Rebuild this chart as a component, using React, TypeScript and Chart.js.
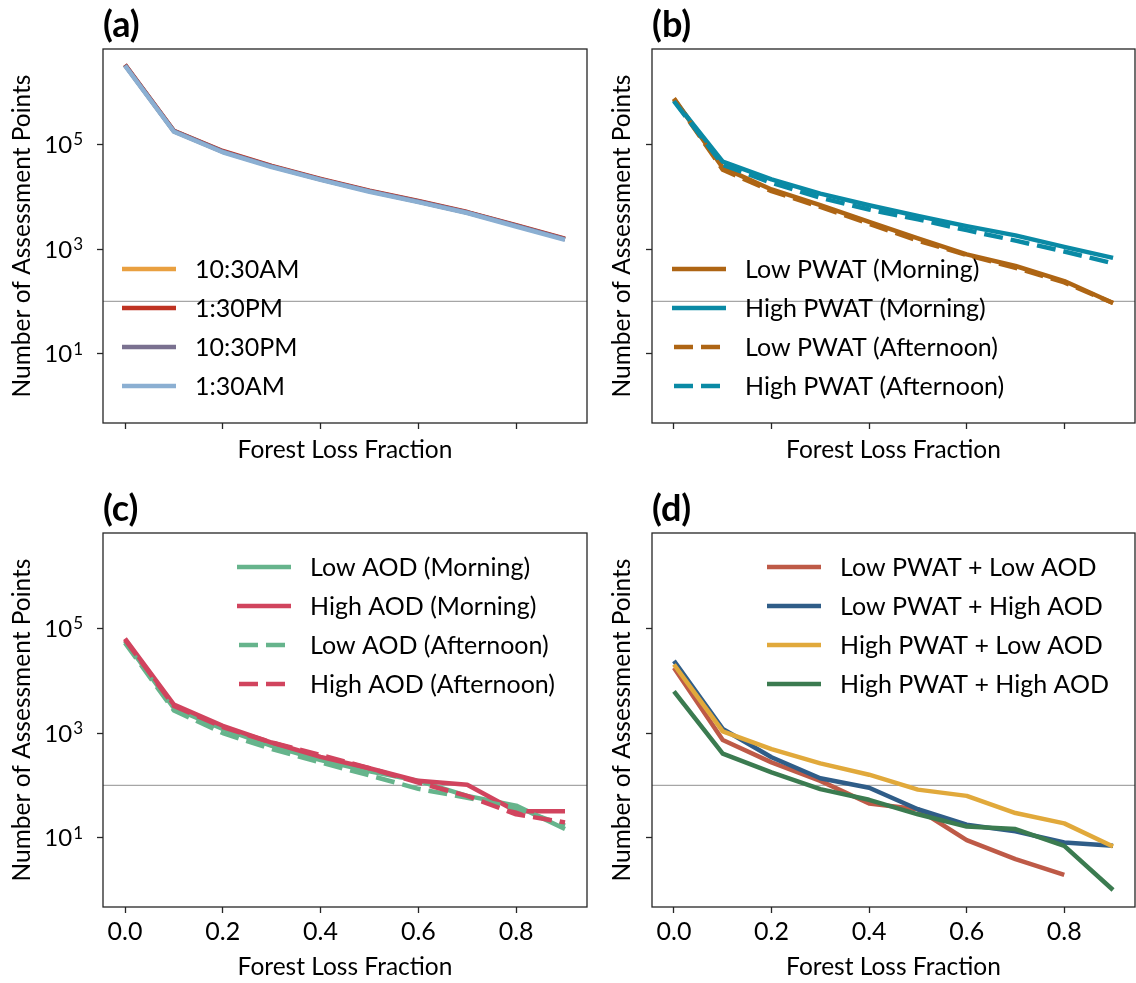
import React, { useEffect, useRef } from "react";
import { Chart, registerables } from "chart.js";

Chart.register(...registerables);

// ---------- data ----------
const FLF = [0, 0.1, 0.2, 0.3, 0.4, 0.5, 0.6, 0.7, 0.8, 0.9];
const X_TICKS = [0, 0.2, 0.4, 0.6, 0.8];
const Y_TICKS = [10, 1000, 100000];
const Y_TICK_EXP = ["1", "3", "5"];
const THRESHOLD = 100;

// (a) overpass times
const A_LABELS = ["10:30AM", "1:30PM", "10:30PM", "1:30AM"];
const A_1030AM = [3.3e6, 1.8e5, 7.3e4, 3.8e4, 2.15e4, 1.28e4, 8.1e3, 5.0e3, 2.8e3, 1.55e3];
const A_130PM = [3.35e6, 1.83e5, 7.5e4, 3.9e4, 2.2e4, 1.3e4, 8.3e3, 5.1e3, 2.85e3, 1.58e3];
const A_1030PM = [3.3e6, 1.8e5, 7.3e4, 3.8e4, 2.15e4, 1.28e4, 8.1e3, 5.0e3, 2.8e3, 1.55e3];
const A_130AM = [3.2e6, 1.75e5, 7.1e4, 3.7e4, 2.1e4, 1.25e4, 7.9e3, 4.9e3, 2.7e3, 1.5e3];

// (b) PWAT
const B_LABELS = ["Low PWAT (Morning)", "High PWAT (Morning)", "Low PWAT (Afternoon)", "High PWAT (Afternoon)"];
const B_LOW_AM = [7.6e5, 3.6e4, 1.38e4, 6.9e3, 3.3e3, 1.6e3, 790, 475, 245, 93];
const B_HIGH_AM = [7.0e5, 4.7e4, 2.15e4, 1.15e4, 6.9e3, 4.3e3, 2.75e3, 1.83e3, 1.1e3, 680];
const B_LOW_PM = [7.4e5, 3.3e4, 1.28e4, 6.4e3, 3.05e3, 1.45e3, 770, 440, 230, 93];
const B_HIGH_PM = [6.7e5, 4.1e4, 1.85e4, 9.6e3, 5.7e3, 3.7e3, 2.3e3, 1.45e3, 900, 535];

// (c) AOD
const C_LABELS = ["Low AOD (Morning)", "High AOD (Morning)", "Low AOD (Afternoon)", "High AOD (Afternoon)"];
const C_LOW_AM = [5.7e4, 3.0e3, 1.2e3, 570, 305, 185, 122, 63, 41, 14.6];
const C_HIGH_AM = [6.4e4, 3.5e3, 1.38e3, 660, 350, 213, 122, 103, 32, 32];
const C_LOW_PM = [5.3e4, 2.7e3, 1.0e3, 495, 275, 155, 86, 58, 37, 17];
const C_HIGH_PM = [6.1e4, 3.3e3, 1.3e3, 660, 380, 213, 113, 63, 28, 19.6];

// (d) PWAT + AOD
const D_LABELS = ["Low PWAT + Low AOD", "Low PWAT + High AOD", "High PWAT + Low AOD", "High PWAT + High AOD"];
const D_LL = [1.78e4, 735, 275, 122, 45, 35, 9, 3.9, 1.94];
const D_LH = [2.4e4, 1.2e3, 345, 137, 90, 35, 17.7, 13.2, 8.1, 7];
const D_HL = [2.05e4, 1.08e3, 495, 263, 160, 83, 63, 29.6, 18.8, 6.8];
const D_HH = [6.3e3, 405, 177, 85, 53, 28, 16.3, 14.6, 7, 1];

// ---------- styling ----------
const FONT = "Lato";
const Y_MIN = Math.pow(10, -0.325);
const Y_MAX = Math.pow(10, 6.825);
const LW = 4.5;
const DASH = [19, 8];
const TITLE_SIZE = 24.5;
const TICK_SIZE = 25;
const LEGEND_SIZE = 25;

type Series = { label: string; data: number[]; color: string; dashed: boolean };
type PanelSpec = {
  tag: string;
  left: number;
  top: number;
  width: number;
  height: number;
  yAxisWidth: number;
  xAxisHeight: number;
  padTop: number;
  padRight: number;
  showXLabels: boolean;
  showYLabels: boolean;
  xTitlePad: number;
  legend: { dx: number; dy: number; step: number };
  series: Series[];
};

const mk = (labels: string[], datas: number[][], colors: string[], dashed: boolean[]): Series[] =>
  labels.map((l, i) => ({ label: l, data: datas[i], color: colors[i], dashed: dashed[i] }));

const PANELS: PanelSpec[] = [
  {
    tag: "(a)", left: 0, top: 0, width: 600, height: 480,
    yAxisWidth: 103, xAxisHeight: 57, padTop: 49, padRight: 13,
    showXLabels: false, showYLabels: true, xTitlePad: 15.3,
    legend: { dx: 19, dy: 220, step: 39 },
    series: mk(A_LABELS, [A_1030AM, A_130PM, A_1030PM, A_130AM],
      ["#E9A040", "#BF3322", "#7A7190", "#8BAFD2"], [false, false, false, false]),
  },
  {
    tag: "(b)", left: 600, top: 0, width: 536, height: 480,
    yAxisWidth: 52, xAxisHeight: 57, padTop: 49, padRight: 1,
    showXLabels: false, showYLabels: false, xTitlePad: 15.3,
    legend: { dx: 20, dy: 220, step: 39 },
    series: mk(B_LABELS, [B_LOW_AM, B_HIGH_AM, B_LOW_PM, B_HIGH_PM],
      ["#AE6514", "#0A8AA5", "#AE6514", "#0A8AA5"], [false, false, true, true]),
  },
  {
    tag: "(c)", left: 0, top: 480, width: 600, height: 503,
    yAxisWidth: 103, xAxisHeight: 76, padTop: 53, padRight: 13,
    showXLabels: true, showYLabels: true, xTitlePad: 1.3,
    legend: { dx: 134, dy: 34, step: 39 },
    series: mk(C_LABELS, [C_LOW_AM, C_HIGH_AM, C_LOW_PM, C_HIGH_PM],
      ["#66B48C", "#D1445E", "#66B48C", "#D1445E"], [false, false, true, true]),
  },
  {
    tag: "(d)", left: 600, top: 480, width: 536, height: 503,
    yAxisWidth: 52, xAxisHeight: 76, padTop: 53, padRight: 1,
    showXLabels: true, showYLabels: false, xTitlePad: 1.3,
    legend: { dx: 115, dy: 34, step: 39 },
    series: mk(D_LABELS, [D_LL, D_LH, D_HL, D_HH],
      ["#BE5A47", "#2F5D88", "#E1A93B", "#3B7B50"], [false, false, false, false]),
  },
];

function decoPlugin(p: PanelSpec) {
  return {
    id: "deco",
    beforeDatasetsDraw(chart: any) {
      const { ctx, chartArea: ca, scales } = chart;
      const y = scales.y.getPixelForValue(THRESHOLD);
      ctx.save();
      ctx.strokeStyle = "#A6A6A6";
      ctx.lineWidth = 1.3;
      ctx.beginPath();
      ctx.moveTo(ca.left, y);
      ctx.lineTo(ca.right, y);
      ctx.stroke();
      ctx.restore();
    },
    afterDatasetsDraw(chart: any) {
      const { ctx, chartArea: ca, scales } = chart;
      ctx.save();
      // frame
      ctx.strokeStyle = "#262626";
      ctx.lineWidth = 1.3;
      ctx.strokeRect(ca.left, ca.top, ca.right - ca.left, ca.bottom - ca.top);

      // panel tag
      ctx.fillStyle = "#000";
      ctx.font = `bold 36px ${FONT}`;
      ctx.textAlign = "left";
      ctx.textBaseline = "alphabetic";
      ctx.fillText(p.tag, ca.left, ca.top - 12);

      // y tick labels with superscripts
      if (p.showYLabels) {
        Y_TICKS.forEach((v, i) => {
          const py = scales.y.getPixelForValue(v);
          const right = ca.left - 20;
          ctx.font = `17px ${FONT}`;
          const w2 = ctx.measureText(Y_TICK_EXP[i]).width;
          ctx.font = `24px ${FONT}`;
          const w1 = ctx.measureText("10").width;
          ctx.fillText("10", right - w2 - w1 - 1, py + 8.5);
          ctx.font = `17px ${FONT}`;
          ctx.fillText(Y_TICK_EXP[i], right - w2, py + 1);
        });
      }

      // legend
      const lx = ca.left + p.legend.dx;
      p.series.forEach((s, i) => {
        const ly = ca.top + p.legend.dy + i * p.legend.step;
        ctx.strokeStyle = s.color;
        ctx.lineWidth = LW;
        ctx.lineCap = "butt";
        if (s.dashed) {
          ctx.setLineDash(DASH);
          ctx.beginPath();
          ctx.moveTo(lx + 2, ly);
          ctx.lineTo(lx + 50, ly);
          ctx.stroke();
          ctx.setLineDash([]);
        } else {
          ctx.beginPath();
          ctx.moveTo(lx, ly);
          ctx.lineTo(lx + 54, ly);
          ctx.stroke();
        }
        ctx.fillStyle = "#000";
        ctx.font = `${LEGEND_SIZE}px ${FONT}`;
        ctx.textBaseline = "middle";
        ctx.fillText(s.label, lx + 73, ly + 1);
        ctx.textBaseline = "alphabetic";
      });
      ctx.restore();
    },
  };
}

function Panel({ spec }: { spec: PanelSpec }) {
  const ref = useRef<HTMLCanvasElement | null>(null);
  useEffect(() => {
    if (!ref.current) return;
    const n = spec.series.length;
    const chart = new Chart(ref.current, {
      type: "line",
      data: {
        datasets: spec.series.map((s, i) => ({
          label: s.label,
          data: s.data.map((v, j) => ({ x: FLF[j], y: v })),
          borderColor: s.color,
          backgroundColor: s.color,
          borderWidth: LW,
          borderDash: s.dashed ? DASH : [],
          borderJoinStyle: "round",
          borderCapStyle: "butt",
          pointRadius: 0,
          tension: 0,
          fill: false,
          order: n - i,
        })),
      },
      options: {
        responsive: false,
        maintainAspectRatio: false,
        animation: false,
        devicePixelRatio: 1,
        events: [],
        layout: { padding: { left: 0, top: spec.padTop, right: spec.padRight, bottom: 0 } },
        plugins: { legend: { display: false }, tooltip: { enabled: false }, title: { display: false } },
        scales: {
          x: {
            type: "linear",
            min: -0.045,
            max: 0.945,
            afterBuildTicks: (s: any) => {
              s.ticks = X_TICKS.map((v) => ({ value: v }));
            },
            afterFit: (s: any) => {
              s.height = spec.xAxisHeight;
            },
            ticks: {
              display: spec.showXLabels,
              color: "#000",
              font: { family: FONT, size: TICK_SIZE },
              padding: 4,
              maxRotation: 0,
              callback: (v: any) => Number(v).toFixed(1),
            },
            grid: {
              drawOnChartArea: false,
              drawTicks: true,
              tickLength: 6,
              tickColor: "#262626",
              tickWidth: 1.3,
              color: "#262626",
            },
            border: { display: false },
            title: {
              display: true,
              text: "Forest Loss Fraction",
              color: "#000",
              font: { family: FONT, size: TITLE_SIZE },
              padding: { top: 0, bottom: spec.xTitlePad },
            },
          },
          y: {
            type: "logarithmic",
            min: Y_MIN,
            max: Y_MAX,
            afterBuildTicks: (s: any) => {
              s.ticks = Y_TICKS.map((v) => ({ value: v }));
            },
            afterFit: (s: any) => {
              s.width = spec.yAxisWidth;
            },
            ticks: { display: false },
            grid: {
              drawOnChartArea: false,
              drawTicks: true,
              tickLength: 6,
              tickColor: "#262626",
              tickWidth: 1.3,
              color: "#262626",
            },
            border: { display: false },
            title: {
              display: true,
              text: "Number of Assessment Points",
              color: "#000",
              font: { family: FONT, size: TITLE_SIZE },
              padding: { top: 7.3, bottom: 0 },
            },
          },
        },
      },
      plugins: [decoPlugin(spec)],
    } as any);
    return () => chart.destroy();
  }, [spec]);
  return (
    <canvas
      ref={ref}
      width={spec.width}
      height={spec.height}
      style={{
        position: "absolute",
        left: spec.left,
        top: spec.top,
        width: spec.width,
        height: spec.height,
        display: "block",
      }}
    />
  );
}

export default function App() {
  return (
    <div style={{ position: "absolute", left: 0, top: 0, width: 1136, height: 983, background: "#fff" }}>
      {PANELS.map((p) => (
        <Panel key={p.tag} spec={p} />
      ))}
    </div>
  );
}
